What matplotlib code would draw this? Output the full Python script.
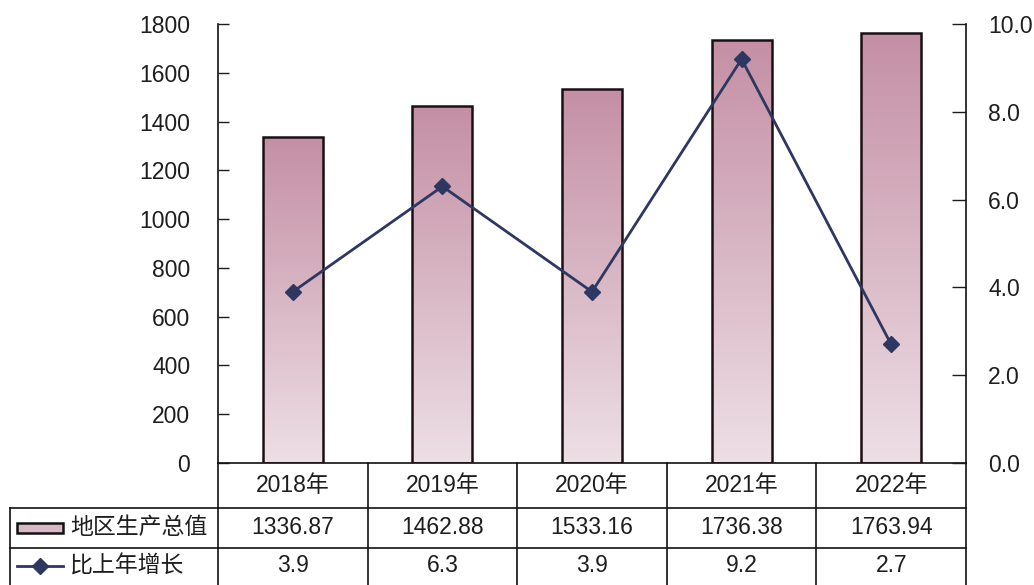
import numpy as np
import matplotlib.pyplot as plt
from matplotlib.colors import LinearSegmentedColormap
from matplotlib.lines import Line2D
from matplotlib.patches import Rectangle
from matplotlib.transforms import blended_transform_factory

plt.rcParams['font.family'] = ['Liberation Sans', 'Noto Sans CJK SC', 'DejaVu Sans']

# data
years = ['2018年', '2019年', '2020年', '2021年', '2022年']
gdp = [1336.87, 1462.88, 1533.16, 1736.38, 1763.94]
growth = [3.9, 6.3, 3.9, 9.2, 2.7]
gdp_labels = ['1336.87', '1462.88', '1533.16', '1736.38', '1763.94']
growth_labels = ['3.9', '6.3', '3.9', '9.2', '2.7']
row_names = ['地区生产总值', '比上年增长']

bar_top = '#c48fa4'
bar_bottom = '#eddfe5'
line_color = '#2d3762'
txt = '#1e1e1e'
fs = 16.5

fig = plt.figure(figsize=(10.34, 5.85), dpi=100)
ax = fig.add_axes([218 / 1034, 122 / 585, 748 / 1034, 439 / 585])
ax2 = ax.twinx()

x = np.arange(len(years))
cmap = LinearSegmentedColormap.from_list('grad', [bar_bottom, bar_top])
grad = np.linspace(0, 1, 256).reshape(-1, 1)
bars = ax.bar(x, gdp, width=0.4, facecolor='none', edgecolor='#1a1014', linewidth=1.8, zorder=3)
for b in bars:
    bx, bw, bh = b.get_x(), b.get_width(), b.get_height()
    im = ax.imshow(grad, cmap=cmap, origin='lower', aspect='auto',
                   extent=[bx, bx + bw, 0, bh], zorder=2)
    im.set_clip_path(b)

ax.set_xlim(-0.5, 4.5)
ax.set_ylim(0, 1800)
ax.set_yticks(range(0, 1801, 200))
ax.set_xticks([])
ax.tick_params(axis='y', direction='in', length=8, width=1, pad=20, labelsize=fs, colors=txt)
ax.spines['top'].set_visible(False)
ax.spines['right'].set_visible(False)
for s in ['left', 'bottom']:
    ax.spines[s].set_linewidth(1.2)
    ax.spines[s].set_color('#111111')

ax2.plot(x, growth, color=line_color, linewidth=2, marker='D', markersize=8, zorder=5)
ax2.set_ylim(0, 10)
ax2.set_yticks(np.arange(0, 10.1, 2))
ax2.set_yticklabels([f'{v:.1f}' for v in np.arange(0, 10.1, 2)])
ax2.tick_params(axis='y', direction='in', length=10, width=1, pad=16, labelsize=fs, colors=txt)
for s in ['top', 'left', 'bottom']:
    ax2.spines[s].set_visible(False)
ax2.spines['right'].set_linewidth(1.2)
ax2.spines['right'].set_color('#111111')
ax2.set_zorder(ax.get_zorder() + 1)
ax2.patch.set_visible(False)

# data table under the chart
tr = blended_transform_factory(ax.transData, ax.transAxes)
h = 439.0
y_head = -45 / h
y_row1 = -85 / h
y_bot = -125 / h
x_left = (10 - 218) / 748
lc = '#111111'
lw = 1.2

for k in range(len(years) + 1):
    ax.add_line(Line2D([k - 0.5, k - 0.5], [0, y_bot], transform=tr, color=lc, lw=lw, clip_on=False))
for yy in [y_head, y_row1]:
    ax.add_line(Line2D([x_left, 1], [yy, yy], transform=ax.transAxes, color=lc, lw=lw, clip_on=False))
ax.add_line(Line2D([x_left, x_left], [y_head, y_bot], transform=ax.transAxes, color=lc, lw=lw, clip_on=False))

for i in range(len(years)):
    ax.text(i, y_head / 2, years[i], transform=tr, ha='center', va='center', fontsize=fs, color=txt)
    ax.text(i, (y_head + y_row1) / 2, gdp_labels[i], transform=tr, ha='center', va='center', fontsize=fs, color=txt)
    ax.text(i, (y_row1 + y_bot) / 2 + 0.005, growth_labels[i], transform=tr, ha='center', va='center', fontsize=fs, color=txt)

# legend keys in the row headers
sw_x0 = (17 - 218) / 748
sw_x1 = (63 - 218) / 748
y1c = (y_head + y_row1) / 2
y2c = (y_row1 + y_bot) / 2 + 0.005
ax.add_patch(Rectangle((sw_x0, y1c - 0.011), sw_x1 - sw_x0, 0.022, transform=ax.transAxes,
                       facecolor='#d9b8c6', edgecolor='#111111', lw=1.8, clip_on=False))
ax.add_line(Line2D([sw_x0, sw_x1], [y2c, y2c], transform=ax.transAxes, color=line_color, lw=2, clip_on=False))
ax.add_line(Line2D([(sw_x0 + sw_x1) / 2], [y2c], transform=ax.transAxes, color=line_color, marker='D',
                   markersize=8, clip_on=False))
tx = (70 - 218) / 748
ax.text(tx, y1c, row_names[0], transform=ax.transAxes, ha='left', va='center', fontsize=fs, color=txt)
ax.text(tx, y2c, row_names[1], transform=ax.transAxes, ha='left', va='center', fontsize=fs, color=txt)

fig.savefig('out.png', dpi=100)
